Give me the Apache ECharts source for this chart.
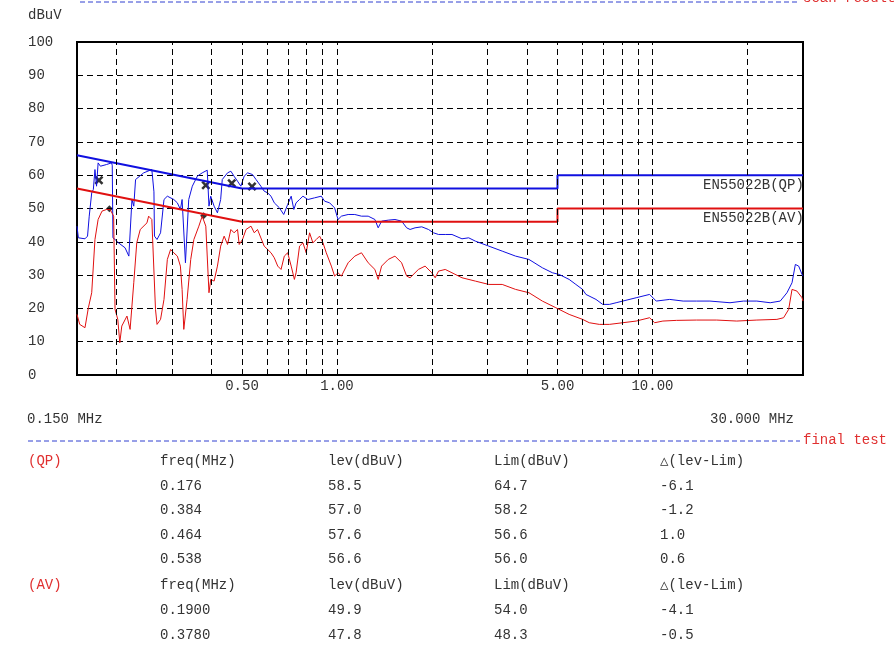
<!DOCTYPE html>
<html><head><meta charset="utf-8">
<script src="https://cdn.jsdelivr.net/npm/echarts@6/dist/echarts.min.js"></script>
<style>html,body{margin:0;padding:0;background:#fff}#c{width:894px;height:655px}</style>
</head><body><div id="c"></div>
<script>
const qpFreq=[0.150,0.1515,0.159,0.162,0.164,0.167,0.169,0.171,0.173,0.175,0.178,0.186,0.193,0.194,0.195,0.198,0.203,0.213,0.219,0.224,0.227,0.230,0.244,0.259,0.263,0.264,0.269,0.276,0.283,0.290,0.304,0.312,0.319,0.323,0.331,0.339,0.348,0.361,0.374,0.388,0.393,0.398,0.408,0.418,0.428,0.433,0.450,0.461,0.472,0.484,0.496,0.508,0.521,0.540,0.554,0.574,0.588,0.603,0.618,0.633,0.657,0.678,0.698,0.716,0.730,0.742,0.761,0.780,0.809,0.849,0.892,0.914,0.948,0.983,1.008,1.033,1.085,1.139,1.196,1.256,1.319,1.351,1.385,1.454,1.527,1.603,1.663,1.705,1.768,1.857,1.950,2.023,2.099,2.204,2.315,2.490,2.615,2.746,3.029,3.340,3.683,4.061,4.477,4.820,5.061,5.444,5.718,6.005,6.153,6.622,6.955,7.303,7.670,8.054,8.879,9.793,10.28,11.34,12.51,13.79,15.21,17.61,19.42,21.42,23.61,25.41,26.69,27.69,28.37,29.07,29.79,30.0];
const qpLev=[44.7,41.2,40.9,41.7,47.7,54.7,55.7,61.7,56.7,63.7,62.7,63.2,63.7,63.0,41.2,40.7,39.7,38.2,35.7,52.7,50.7,58.7,60.7,61.7,55.0,41.7,40.7,42.7,52.7,53.7,52.7,51.7,49.7,52.7,33.7,52.7,56.7,59.7,60.7,61.5,50.7,53.7,50.7,48.7,52.7,58.7,60.7,61.2,59.7,58.2,56.7,59.7,60.7,60.2,58.7,56.7,55.2,54.7,53.7,51.7,50.2,48.2,51.2,53.7,49.7,51.7,52.7,53.7,52.7,53.2,53.7,52.2,51.7,50.2,46.7,47.7,48.2,48.2,47.7,47.7,46.7,44.2,46.2,46.5,46.7,46.2,44.2,43.7,44.2,44.5,43.7,42.7,42.2,42.2,42.2,40.9,41.2,40.2,38.7,37.2,35.7,34.7,32.2,30.7,30.2,28.7,27.2,25.7,24.2,22.7,21.2,21.2,21.7,22.2,23.2,24.2,22.2,22.7,22.2,22.2,22.2,21.7,22.2,22.2,21.7,22.2,24.7,27.7,33.2,32.7,30.2,29.7];
const avFreq=[0.150,0.153,0.159,0.163,0.167,0.171,0.175,0.180,0.186,0.191,0.196,0.198,0.202,0.205,0.208,0.216,0.221,0.227,0.232,0.238,0.250,0.253,0.259,0.266,0.269,0.276,0.283,0.290,0.297,0.304,0.312,0.319,0.323,0.327,0.335,0.344,0.352,0.365,0.374,0.384,0.393,0.398,0.408,0.418,0.428,0.439,0.450,0.461,0.472,0.484,0.490,0.502,0.515,0.534,0.547,0.560,0.588,0.603,0.618,0.633,0.649,0.665,0.681,0.698,0.716,0.733,0.742,0.761,0.780,0.799,0.819,0.839,0.860,0.881,0.903,0.925,0.960,0.983,1.008,1.033,1.085,1.139,1.196,1.256,1.319,1.351,1.385,1.454,1.527,1.603,1.663,1.705,1.812,1.903,1.998,2.048,2.099,2.204,2.315,2.490,2.746,3.029,3.340,3.683,4.061,4.477,4.94,5.444,6.005,6.306,6.785,7.303,8.054,8.879,9.793,10.16,10.79,11.91,13.79,15.98,18.50,21.42,24.80,26.04,27.02,27.69,28.7,29.79,30.0];
const avLev=[18.2,15.2,14.2,20.2,24.7,40.7,46.7,49.2,49.7,49.7,47.7,19.7,16.7,9.7,14.7,17.7,13.7,27.7,39.7,43.7,45.7,47.7,46.7,19.7,15.2,16.7,22.7,34.7,37.7,36.7,35.7,32.7,25.7,13.7,22.7,34.7,40.7,44.7,47.7,44.7,24.7,28.7,28.2,32.7,38.7,41.7,39.2,43.7,42.7,43.7,39.2,40.7,43.7,44.7,42.7,43.7,38.7,37.7,36.7,35.2,32.7,31.7,35.7,36.7,32.7,28.7,30.7,38.7,39.7,36.7,42.7,39.7,40.7,41.7,39.7,36.7,32.7,29.7,30.7,29.7,33.7,35.7,36.7,33.7,31.7,28.7,32.7,34.7,35.7,33.7,29.7,29.2,31.7,32.7,30.7,29.2,31.2,31.7,30.7,29.2,28.2,27.2,27.2,25.7,24.7,22.2,20.2,18.2,16.7,15.7,15.2,15.2,15.7,16.2,17.2,15.7,16.2,16.4,16.5,16.5,16.2,16.5,16.7,17.2,19.7,25.7,25.2,23.2,22.2];
const qpLimFreq=[0.15,0.5,5,5,30];
const qpLimVal=[66,56,56,60,60];
const avLimFreq=[0.15,0.5,5,5,30];
const avLimVal=[56,46,46,50,50];
const qpMarkFreq=[0.176,0.384,0.464,0.538];
const qpMarkLev=[58.5,57.0,57.6,56.6];
const qpMarkLim=[64.7,58.2,56.6,56.0];
const qpMarkDelta=['-6.1','-1.2','1.0','0.6'];
const avMarkFreq=['0.1900','0.3780'];
const avMarkLev=[49.9,47.8];
const avMarkLim=[54.0,48.3];
const avMarkDelta=['-4.1','-0.5'];
const gridFreqs=[0.2,0.3,0.4,0.6,0.7,0.8,0.9,2,3,4,6,7,8,9,20];
const labelFreqs=[0.5,1,5,10];
const labelTexts=['0.50','1.00','5.00','10.00'];

const zip=(a,b)=>a.map((v,i)=>[+v,b[i]]);
const F='"Liberation Mono", "DejaVu Sans Mono", monospace';
const TC='#333';
const dash=[6,4];
const chart=echarts.init(document.getElementById('c'));
const gText=[];
const txt=(x,y,s,c,o)=>gText.push({type:'text',left:x,top:y,style:Object.assign({text:s,fill:c||TC,font:'14px '+F},o||{})});
txt(28,8,'dBuV');
txt(27,412,'0.150 MHz');
txt(710,412,'30.000 MHz');
txt(803,-9,'scan result','#e03030');
txt(803,433,'final test','#e03030');
txt(703,178,'EN55022B(QP)');
txt(703,211,'EN55022B(AV)');
const cols=[160,328,494,660];
let rows=[];
rows.push(['(QP)','freq(MHz)','lev(dBuV)','Lim(dBuV)','△(lev-Lim)']);
qpMarkFreq.forEach((f,i)=>rows.push(['',f.toFixed(3),qpMarkLev[i].toFixed(1),qpMarkLim[i].toFixed(1),qpMarkDelta[i]]));
rows.push(['(AV)','freq(MHz)','lev(dBuV)','Lim(dBuV)','△(lev-Lim)']);
avMarkFreq.forEach((f,i)=>rows.push(['',f,avMarkLev[i].toFixed(1),avMarkLim[i].toFixed(1),avMarkDelta[i]]));
const rowY=[454,479,503,528,552,578,603,628];
rows.forEach((r,i)=>{ if(r[0]) txt(28,rowY[i],r[0],'#e03030'); for(let k=1;k<5;k++) txt(cols[k-1],rowY[i],r[k]); });
gText.push({type:'line',shape:{x1:80,y1:2,x2:800,y2:2},style:{stroke:'#3040d0',lineDash:[5,3],lineWidth:1}});
gText.push({type:'line',shape:{x1:28,y1:441,x2:800,y2:441},style:{stroke:'#3040d0',lineDash:[5,3],lineWidth:1}});

const markGrid=gridFreqs.map(f=>({xAxis:f}));
const markLab=labelFreqs.map((f,i)=>({xAxis:f,label:{show:true,position:'start',formatter:labelTexts[i],distance:4,color:TC,fontFamily:F,fontSize:14}}));
const X='path://M0,2L2,0L5,3L8,0L10,2L7,5L10,8L8,10L5,7L2,10L0,8L3,5Z';
chart.setOption({
  animation:false,
  graphic:gText,
  grid:{left:77,right:91,top:42,bottom:280,show:true,borderColor:'#000',borderWidth:2,backgroundColor:'transparent'},
  xAxis:{type:'log',logBase:10,min:0.15,max:30,axisLabel:{show:false},axisTick:{show:false},axisLine:{show:false},splitLine:{show:false}},
  yAxis:{type:'value',min:0,max:100,interval:10,axisLine:{show:false},axisTick:{show:false},
    axisLabel:{align:'left',margin:49,color:TC,fontFamily:F,fontSize:14},
    splitLine:{show:true,lineStyle:{color:'#000',type:dash,width:1}}},
  series:[
    {type:'line',data:[],silent:true,markLine:{symbol:'none',silent:true,animation:false,label:{show:false},lineStyle:{color:'#000',type:dash,width:1},data:markGrid.concat(markLab)}},
    {type:'line',data:zip(qpFreq,qpLev),symbol:'none',lineStyle:{color:'#1010e0',width:1}},
    {type:'line',data:zip(avFreq,avLev),symbol:'none',lineStyle:{color:'#e01010',width:1}},
    {type:'line',data:zip(qpLimFreq,qpLimVal),symbol:'none',lineStyle:{color:'#1010e0',width:2}},
    {type:'line',data:zip(avLimFreq,avLimVal),symbol:'none',lineStyle:{color:'#e01010',width:2}},
    {type:'scatter',data:zip(qpMarkFreq,qpMarkLev),symbol:X,symbolSize:9,itemStyle:{color:'#000'}},
    {type:'scatter',data:zip(avMarkFreq,avMarkLev),symbol:'diamond',symbolSize:7,itemStyle:{color:'#000'}}
  ]
});
</script></body></html>
